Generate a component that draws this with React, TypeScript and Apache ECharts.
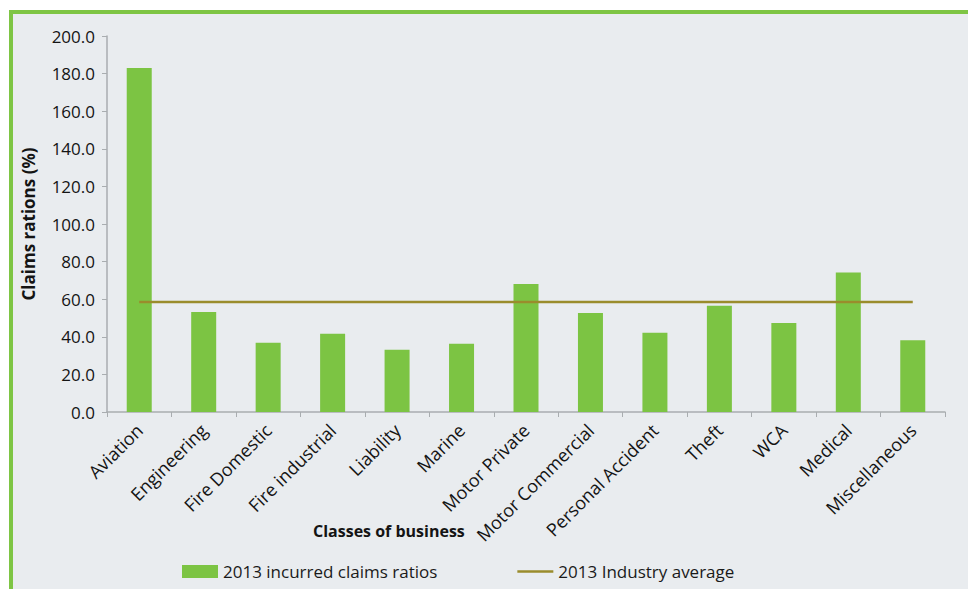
import React, { useEffect, useRef } from "react";
import * as echarts from "echarts";

const categories = [
  "Aviation",
  "Engineering",
  "Fire Domestic",
  "Fire industrial",
  "Liability",
  "Marine",
  "Motor Private",
  "Motor Commercial",
  "Personal Accident",
  "Theft",
  "WCA",
  "Medical",
  "Miscellaneous",
];

const claimsRatios = [183.0, 53.2, 36.8, 41.6, 33.1, 36.3, 68.1, 52.6, 42.1, 56.5, 47.3, 74.2, 38.2];

const industryAverage = [58.5, 58.5, 58.5, 58.5, 58.5, 58.5, 58.5, 58.5, 58.5, 58.5, 58.5, 58.5, 58.5];

const yTicks = { min: 0, max: 200, interval: 20 };

const FONT = "'Open Sans', 'Noto Sans', sans-serif";

export default function App() {
  const ref = useRef<HTMLDivElement>(null);

  useEffect(() => {
    if (!ref.current) return;
    const chart = echarts.init(ref.current, undefined, { renderer: "svg" });
    chart.setOption({
      animation: false,
      backgroundColor: "transparent",
      textStyle: { fontFamily: FONT },
      grid: { left: 107, right: 23, top: 36, bottom: 177, containLabel: false },
      legend: {
        left: 177,
        top: 558,
        itemWidth: 36,
        itemHeight: 13,
        itemGap: 80,
        textStyle: { fontFamily: FONT, fontSize: 17, color: "#1a1a1a" },
        data: [
          { name: "2013 incurred claims ratios", icon: "rect" },
          { name: "2013 Industry average", icon: "path://M0,0H40V3H0Z" },
        ],
      },
      xAxis: {
        type: "category",
        data: categories,
        boundaryGap: true,
        axisLine: { lineStyle: { color: "#a9adb0", width: 1.5 } },
        axisTick: { show: true, length: 5, alignWithLabel: false, lineStyle: { color: "#a9adb0" } },
        axisLabel: {
          rotate: 45,
          margin: 15,
          interval: 0,
          fontFamily: FONT,
          fontSize: 18,
          color: "#141414",
        },
        splitLine: { show: false },
      },
      yAxis: {
        type: "value",
        min: yTicks.min,
        max: yTicks.max,
        interval: yTicks.interval,
        name: "Claims rations (%)",
        nameLocation: "middle",
        nameGap: 70,
        nameTextStyle: { fontFamily: FONT, fontSize: 17, fontWeight: "bold", color: "#141414" },
        axisLine: { show: true, lineStyle: { color: "#a9adb0", width: 1.5 } },
        axisTick: { show: true, length: 5, lineStyle: { color: "#a9adb0" } },
        axisLabel: {
          fontFamily: FONT,
          fontSize: 17,
          color: "#141414",
          margin: 12,
          formatter: (v: number) => v.toFixed(1),
        },
        splitLine: { show: false },
      },
      graphic: [
        {
          type: "text",
          left: 313,
          top: 523,
          style: {
            text: "Classes of business",
            fontFamily: FONT,
            fontSize: 16,
            fontWeight: "bold",
            fill: "#141414",
          },
        },
      ],
      series: [
        {
          name: "2013 incurred claims ratios",
          type: "bar",
          data: claimsRatios,
          barWidth: 25,
          itemStyle: { color: "#7cc443" },
        },
        {
          name: "2013 Industry average",
          type: "line",
          data: industryAverage,
          symbol: "none",
          showSymbol: false,
          lineStyle: { color: "#9a8c2c", width: 2.5 },
          itemStyle: { color: "#9a8c2c" },
        },
      ],
    });
    return () => chart.dispose();
  }, []);

  return (
    <div
      style={{
        position: "absolute",
        left: 0,
        top: 0,
        width: 968,
        height: 589,
        background: "#ffffff",
        overflow: "hidden",
      }}
    >
      <div
        style={{
          position: "absolute",
          left: 9,
          top: 10,
          width: 1000,
          height: 620,
          border: "4px solid #7ec544",
          background: "#e9ecef",
          boxSizing: "border-box",
        }}
      />
      <div ref={ref} style={{ position: "absolute", left: 0, top: 0, width: 968, height: 589 }} />
    </div>
  );
}
